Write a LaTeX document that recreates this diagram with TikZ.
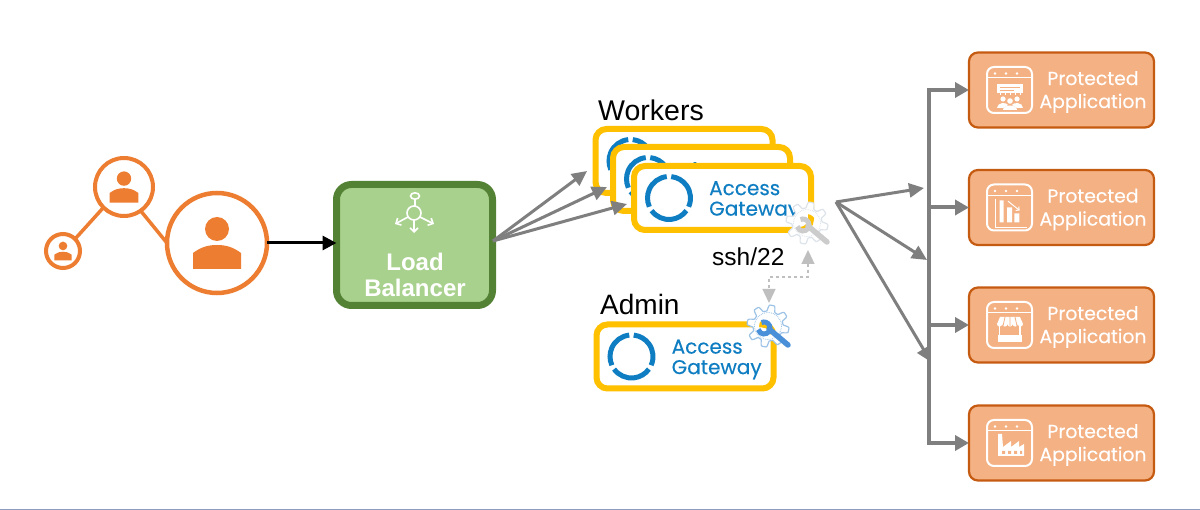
\documentclass[tikz,border=0pt]{standalone}
\usepackage{fontspec}
\setmainfont{Liberation Sans}
\newfontfamily\gothamish{Poppins}[FakeBold=0.25]
\usetikzlibrary{arrows.meta,calc}
\definecolor{peopleor}{HTML}{ED7D31}
\definecolor{lbfill}{HTML}{A9D18E}
\definecolor{lbline}{HTML}{548235}
\definecolor{gwyellow}{HTML}{FFC000}
\definecolor{gwblue}{HTML}{0F7DC2}
\definecolor{flowgray}{HTML}{7F7F7F}
\definecolor{sshgray}{HTML}{BFBFBF}
\definecolor{pafill}{HTML}{F4B183}
\definecolor{paline}{HTML}{C55A11}
\definecolor{gearblue}{HTML}{9DC3E6}
\definecolor{wrenchblue}{HTML}{4A90D9}
\definecolor{gearfade}{HTML}{DDE3EA}
\definecolor{wrenchfade}{HTML}{CCCCCC}
\definecolor{rulecol}{HTML}{8E9DBE}
\tikzset{
  usercircle/.style={circle,draw=peopleor,fill=white,line width=#1,inner sep=0pt,outer sep=0pt},
  lbbox/.style={draw=lbline,fill=lbfill,line width=7pt,rounded corners=15pt,minimum width=156pt,minimum height=121pt,inner sep=0pt,outer sep=0pt},
  gwbox/.style={draw=gwyellow,fill=white,line width=6pt,rounded corners=11pt,minimum width=177pt,minimum height=64pt,inner sep=0pt,outer sep=0pt},
  gwtext/.style={anchor=west,text=gwblue,align=left,inner sep=0pt,font=\gothamish\fontsize{20}{20.5}\selectfont},
  pabox/.style={draw=paline,fill=pafill,line width=2.2pt,rounded corners=9pt,minimum width=185pt,minimum height=75pt,inner sep=0pt,outer sep=0pt},
  patext/.style={text=white,align=center,inner sep=0pt,font=\gothamish\fontsize{18.8}{23}\selectfont},
  title/.style={anchor=base west,inner sep=0pt,text=black},
  flow/.style={draw=flowgray,line width=3pt,-{Triangle[length=15pt,width=14pt]}},
  branch/.style={draw=flowgray,line width=4pt,-{Triangle[length=14pt,width=15pt]}},
  ssh/.style={draw=sshgray,line width=1.4pt,dashed,{Triangle[length=14pt,width=13pt]}-{Triangle[length=14pt,width=13pt]}},
  iconline/.style={draw=white,line width=2pt,line join=round},
}
\newcommand{\personicon}[3]{%
  \begin{scope}[shift={(#1,#2)},scale=#3]
    \fill[peopleor] (0,-14) circle[radius=12];
    \fill[peopleor] (-24,26) -- (-24,10) .. controls (-16,4) and (-9,2) .. (0,2) .. controls (9,2) and (16,4) .. (24,10) -- (24,26) -- cycle;
  \end{scope}}
\newcommand{\gatewaybox}[3]{%
  \node[gwbox] (#1) at (#2,#3) {};
  \coordinate (#1logo) at ($(#1.center)+(-53.5,0)$);
  \draw[gwblue,line width=5pt]
    ([shift={(96:21.5pt)}]#1logo) arc[start angle=96,end angle=204,radius=21.5pt]
    ([shift={(216:21.5pt)}]#1logo) arc[start angle=216,end angle=324,radius=21.5pt]
    ([shift={(336:21.5pt)}]#1logo) arc[start angle=336,end angle=444,radius=21.5pt];
  \node[gwtext] (#1text) at ($(#1.center)+(-13.5,3)$) {Access\\Gateway};}
\newcommand{\gearicon}[4]{%
  \begin{scope}[shift={(#1,#2)}]
    \fill[white,even odd rule]
      plot[domain=0:360,samples=145,variable=\t]
        ({(18+3*max(-1,min(1,2*sin(8*\t))))*cos(\t)},{(18+3*max(-1,min(1,2*sin(8*\t))))*sin(\t)}) -- cycle
      (0,0) circle[radius=9];
    \draw[#3,line width=1.2pt,line join=round]
      plot[domain=0:360,samples=145,variable=\t]
        ({(18+3*max(-1,min(1,2*sin(8*\t))))*cos(\t)},{(18+3*max(-1,min(1,2*sin(8*\t))))*sin(\t)}) -- cycle;
    \draw[#3,line width=.8pt,densely dotted] (0,0) circle[radius=13.5];
    \draw[#4,line width=5.5pt,line cap=round] (1,3) -- (20,19);
    \draw[#4,line width=5pt] ([shift={(115:6pt)}]-4,2) arc[start angle=115,end angle=-165,radius=6pt];
  \end{scope}}
\newcommand{\protectedbox}[3]{%
  \node[pabox] (#1) at (1061.5,#2) {};
  \node[patext] (#1text) at (1093,#2+2) {Protected\\Application};
  \begin{scope}[shift={(987,#2-23)}]
    \draw[iconline,rounded corners=7pt] (0,0) rectangle (45,46);
    \draw[white,line width=1pt] (0,11) -- (45,11);
    \foreach \d in {8,19,30} \fill[white] (\d,6.5) circle[radius=1.4];
    #3
  \end{scope}}
\begin{document}
\begin{tikzpicture}[x=1pt,y=-1pt]
\useasboundingbox (0,0) rectangle (1200,510);
\fill[white] (0,0) rectangle (1200,510);
\fill[rulecol] (0,508.5) rectangle (1200,510);

% users
\node[usercircle=4pt,minimum size=34pt] (p1) at (63,251) {};
\node[usercircle=4pt,minimum size=58pt] (p2) at (124,187) {};
\node[usercircle=4.5pt,minimum size=100pt] (p3) at (217,243) {};
\draw[peopleor,line width=3.5pt] (p1.45) -- (p2.225);
\draw[peopleor,line width=3.5pt] (p2.-55) -- (p3.180);
\personicon{63}{251}{.36}
\personicon{124}{187}{.6}
\personicon{217}{243}{1}

% load balancer
\node[lbbox] (lb) at (414.5,245) {};
\node[inner sep=0pt,text=white,align=center,font=\bfseries\fontsize{24}{26}\selectfont] (lbtext) at (415,275) {Load\\Balancer};
\begin{scope}[draw=white,line width=1.6pt]
  \draw (414,213) circle[radius=7];
  \draw (415,196) ellipse[x radius=4.5,y radius=3.2];
  \draw (415,199.2) -- (415,206);
  \draw[-{Straight Barb[length=4pt,width=8pt]}] (408,217) -- (395,224);
  \draw[-{Straight Barb[length=4pt,width=8pt]}] (414,220) -- (414,233);
  \draw[-{Straight Barb[length=4pt,width=8pt]}] (420,217) -- (434,224);
\end{scope}
\draw[black,line width=3pt,-{Triangle[length=14pt,width=14pt]}] (p3.east) -- (p3.east -| lb.west);

% worker gateways
\gatewaybox{w1}{684}{161}
\gatewaybox{w2}{701.5}{179}
\gatewaybox{w3}{722.5}{198}
\gearicon{807}{223}{gearfade}{wrenchfade}
\node[title,font=\fontsize{28.5}{30}\selectfont] (workers) at (598,120.5) {Workers};

% flows into the workers
\coordinate (lbout) at (493,241);
\coordinate (tipa) at (587,171);
\coordinate (tipb) at (607,187);
\coordinate (tipc) at (627,204);
\draw[flow] (lbout) -- (tipa);
\draw[flow] (lbout) -- (tipb);
\draw[flow] (lbout) -- (tipc);

% admin gateway
\gatewaybox{ad}{685}{356.5}
\gearicon{768}{326}{gearblue}{wrenchblue}
\node[title,font=\fontsize{28}{30}\selectfont] (admin) at (600,315) {Admin};
\node[title,font=\fontsize{24.5}{26}\selectfont] (sshlabel) at (712,265.5) {ssh/22};
\coordinate (sshtop) at (808,250);
\coordinate (sshbot) at (769,303);
\draw[ssh] (sshtop) -- (808,277) -- (769,277) -- (sshbot);

% protected applications
\protectedbox{pa1}{90}{%
  \fill[white] (10,17) rectangle (36,26);
  \draw[pafill,line width=.8pt] (13,20) -- (33,20) (13,23) -- (27,23);
  \draw[white,line width=.8pt] (13,26) -- (13,28) (18,26) -- (18,28) (23,26) -- (23,28) (28,26) -- (28,28) (33,26) -- (33,28);
  \fill[white] (16,32) circle[radius=2.6] (30,32) circle[radius=2.6] (23,34) circle[radius=2.8];
  \fill[white] (10,41) .. controls (10,35) and (20,35) .. (21,38) -- (16,41) -- cycle;
  \fill[white] (36,41) .. controls (36,35) and (26,35) .. (25,38) -- (30,41) -- cycle;
  \fill[white] (16,43) .. controls (16,37) and (30,37) .. (30,43) -- cycle;
}
\protectedbox{pa2}{207.5}{%
  \draw[white,line width=1.2pt] (8.3,15) -- (8.3,43) -- (40,43);
  \fill[white] (12.7,16) rectangle (16.7,38) (20,23) rectangle (25,38) (27.3,29) rectangle (32.3,38);
  \draw[white,line width=1pt,-{Straight Barb[length=2.5pt,width=5pt]}] (21,16.7) -- (32.7,26);
}
\protectedbox{pa3}{325}{%
  \fill[white] (13,15) -- (33,15) -- (36,22) -- (10,22) -- cycle;
  \fill[white] (10,22) arc[start angle=180,end angle=360,radius=2.6pt] arc[start angle=180,end angle=360,radius=2.6pt] arc[start angle=180,end angle=360,radius=2.6pt] arc[start angle=180,end angle=360,radius=2.6pt] arc[start angle=180,end angle=360,radius=2.6pt] -- cycle;
  \draw[pafill,line width=.8pt] (18,15) -- (16,24) (23,15) -- (23,24) (28,15) -- (30,24);
  \draw[white,line width=1.6pt] (12.5,24) -- (12.5,33) (33,24) -- (33,33);
  \fill[white] (11,33) rectangle (35,40);
}
\protectedbox{pa4}{443}{%
  \fill[white] (11,36) -- (11,14) -- (15,14) -- (16,27) -- (24,21) -- (24,27) -- (32,21) -- (32,27) -- (37,24) -- (37,36) -- cycle;
  \fill[pafill] (15,31) rectangle (18,34) (21,31) rectangle (24,34) (27,31) rectangle (30,34) (33,31) rectangle (35,34);
}

% distribution bus
\coordinate (bustop) at (929,90);
\coordinate (busbot) at (929,443);
\draw[flowgray,line width=4pt,line cap=rect] (bustop) -- (busbot);
\draw[branch] (bustop) -- (pa1.west);
\draw[branch] (bustop |- pa2.west) -- (pa2.west);
\draw[branch] (bustop |- pa3.west) -- (pa3.west);
\draw[branch] (busbot) -- (pa4.west);

% flows out of the workers
\coordinate (hub) at (836,202);
\coordinate (tipd) at (924,188);
\coordinate (tipe) at (927,260);
\coordinate (tipf) at (931,362);
\draw[flow] (hub) -- (tipd);
\draw[flow] (hub) -- (tipe);
\draw[flow] (hub) -- (tipf);
\end{tikzpicture}
\end{document}
